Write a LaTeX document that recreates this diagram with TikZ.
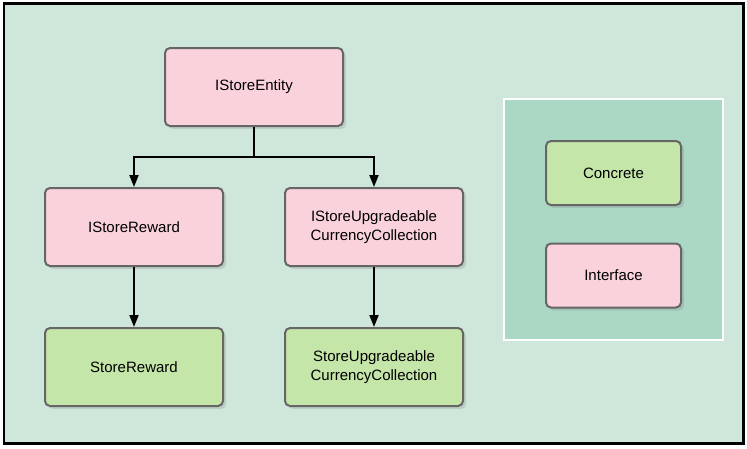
\documentclass[tikz,border=0pt]{standalone}
\usepackage{fontspec}
\setmainfont{Liberation Sans}
\usetikzlibrary{arrows.meta,positioning,shadows}
\definecolor{pagebg}{RGB}{207,231,219}
\definecolor{legendbg}{RGB}{171,216,197}
\definecolor{ifcpink}{RGB}{250,210,220}
\definecolor{clsgreen}{RGB}{197,230,169}
\definecolor{boxline}{RGB}{102,102,102}

\begin{document}
\begin{tikzpicture}[x=1pt,y=-1pt,>={Triangle[length=12pt,width=9pt]},font=\fontsize{15}{19}\selectfont]
\tikzstyle{box}=[draw=boxline,line width=2pt,rounded corners=5pt,minimum width=178pt,minimum height=78pt,align=center,drop shadow={shadow xshift=3pt,shadow yshift=-3pt,opacity=0.25}]
\tikzstyle{ifc}=[box,fill=ifcpink]
\tikzstyle{cls}=[box,fill=clsgreen]
\tikzstyle{key}=[minimum width=135pt,minimum height=64pt]
\tikzstyle{conn}=[line width=2pt]
\useasboundingbox (0,0) rectangle (747,448);
\draw[line width=2.5pt,fill=pagebg] (4,3.5) rectangle (743.5,443.5);
% hierarchy
\node[ifc] (entity) at (254,87) {IStoreEntity};
\node[ifc] (ireward) at (134,227) {IStoreReward};
\node[ifc] (icurrency) at (374,227) {IStoreUpgradeable\\CurrencyCollection};
\node[cls] (reward) at (134,367) {StoreReward};
\node[cls] (currency) at (374,367) {StoreUpgradeable\\CurrencyCollection};
\coordinate (split) at (254,157);
\draw[conn] (entity.south) -- (split);
\draw[conn,->] (split) -| (ireward.north);
\draw[conn,->] (split) -| (icurrency.north);
\draw[conn,->] (ireward) -- (reward);
\draw[conn,->] (icurrency) -- (currency);
% legend
\draw[white,line width=1.5pt,fill=legendbg] (504,99) rectangle (723,340);
\node[cls,key] (concrete) at (613.5,173) {Concrete};
\node[ifc,key] (interface) at (613.5,275.5) {Interface};
\end{tikzpicture}
\end{document}
